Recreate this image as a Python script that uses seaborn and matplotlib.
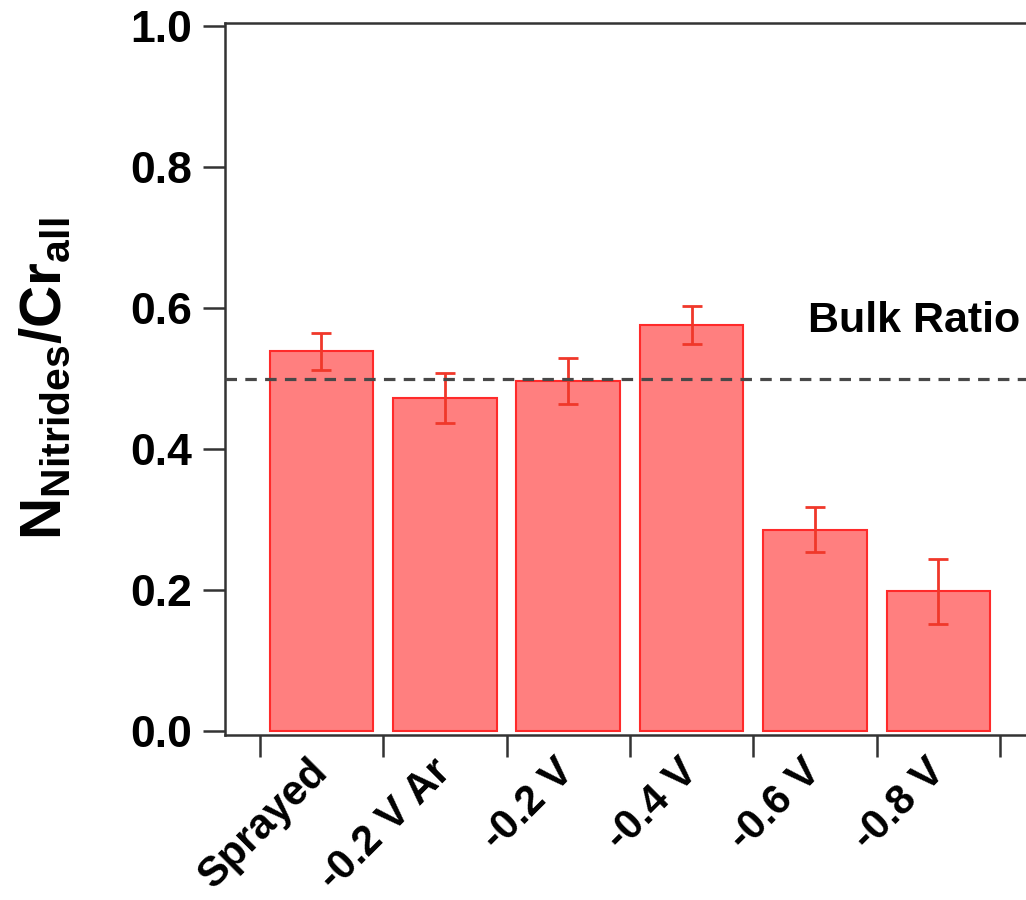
import numpy as np
import matplotlib
matplotlib.use("Agg")
import matplotlib.pyplot as plt
import seaborn as sns
import pandas as pd

categories = ["Sprayed", "-0.2 V Ar", "-0.2 V", "-0.4 V", "-0.6 V", "-0.8 V"]
ratios = [0.539, 0.473, 0.497, 0.576, 0.286, 0.199]
errors = [0.026, 0.035, 0.033, 0.027, 0.032, 0.046]
bulk_ratio = 0.5
yticks = [0.0, 0.2, 0.4, 0.6, 0.8, 1.0]

sns.set_theme(style="white")
plt.rcParams["font.family"] = ["Liberation Sans", "DejaVu Sans"]
plt.rcParams["font.weight"] = "bold"
plt.rcParams["text.color"] = "black"
plt.rcParams["xtick.color"] = "black"
plt.rcParams["ytick.color"] = "black"
plt.rcParams["axes.labelcolor"] = "black"
plt.rcParams["mathtext.fontset"] = "custom"
plt.rcParams["mathtext.bf"] = "Liberation Sans:bold"
plt.rcParams["mathtext.rm"] = "Liberation Sans:bold"
plt.rcParams["mathtext.it"] = "Liberation Sans:bold"

df = pd.DataFrame({"cat": categories, "val": ratios})

fig = plt.figure(figsize=(10.26, 9), dpi=100)
ax = fig.add_axes([225/1026, 1-735/900, 1-225/1026, (735-22.7)/900])

sns.barplot(data=df, x="cat", y="val", ax=ax, color="#FF7F7F", saturation=1,
            width=0.84, edgecolor="#FF2A2A", linewidth=1.5, errorbar=None)
ax.errorbar(np.arange(len(categories)), ratios, yerr=errors, fmt="none",
            ecolor="#F0382A", elinewidth=2, capsize=7.5, capthick=2)

ax.axhline(bulk_ratio, color="#484848", lw=2.3, linestyle=(0, (3.6, 2.6)), zorder=3)
ax.text(0.993, 0.582, "Bulk Ratio", transform=ax.get_yaxis_transform(),
        ha="right", va="center", fontsize=31, fontweight="bold")

ax.set_xlim(-0.782, 5.71)
ax.set_ylim(-0.005, 1.005)
ax.set_yticks(yticks)
ax.set_yticklabels([f"{t:.1f}" for t in yticks], fontsize=32, fontweight="bold")

ax.set_xticks(np.arange(len(categories)))
ax.set_xticklabels(categories, rotation=45, ha="right", va="center",
                   rotation_mode="anchor", fontsize=30, fontweight="bold")
ax.set_xticks(np.arange(-0.5, len(categories), 1), minor=True)
ax.tick_params(axis="x", which="major", length=0, pad=22)
ax.tick_params(axis="x", which="minor", length=16, width=1.8, color="#333333", direction="out", bottom=True)
ax.tick_params(axis="y", which="major", length=16, width=1.8, color="#333333", direction="out", left=True, pad=8)

for s in ["left", "bottom", "top"]:
    ax.spines[s].set_visible(True)
    ax.spines[s].set_linewidth(1.8)
    ax.spines[s].set_color("#333333")
ax.spines["right"].set_visible(False)

ax.set_xlabel("")
ax.set_ylabel(r"$\mathbf{N_{Nitrides}/Cr_{all}}$", fontsize=42)
ax.yaxis.set_label_coords(-152/801, 0.5)

fig.savefig("out.png", dpi=100)
